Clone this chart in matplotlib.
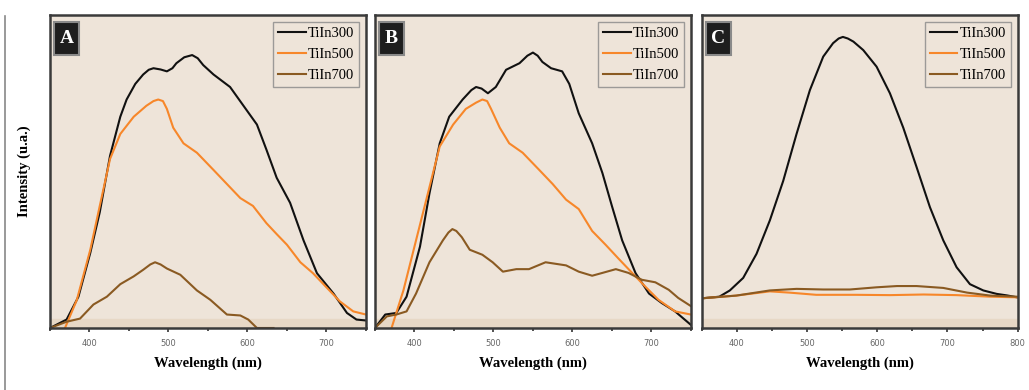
import matplotlib.pyplot as plt
from matplotlib.ticker import MultipleLocator
from matplotlib.lines import Line2D
from matplotlib.patches import Rectangle

# Panel A
a_wl_300 = [350, 371, 386, 401, 413, 426, 439, 447, 458, 468, 475, 481, 490, 498, 505, 510, 520, 530, 537, 544, 557, 578, 595, 612, 624, 637, 654, 671, 688, 709, 726, 738, 750]
a_i_300 = [0.0, 0.027, 0.10, 0.24, 0.37, 0.55, 0.675, 0.73, 0.78, 0.81, 0.825, 0.83, 0.826, 0.82, 0.83, 0.846, 0.865, 0.872, 0.862, 0.84, 0.81, 0.77, 0.71, 0.65, 0.57, 0.48, 0.40, 0.28, 0.175, 0.11, 0.048, 0.027, 0.024]
a_wl_500 = [369, 384, 401, 413, 426, 439, 456, 472, 481, 487, 493, 498, 506, 519, 536, 557, 574, 591, 607, 624, 637, 650, 667, 683, 700, 717, 734, 750]
a_i_500 = [0.0, 0.09, 0.25, 0.39, 0.54, 0.62, 0.675, 0.71, 0.725, 0.73, 0.725, 0.70, 0.64, 0.59, 0.56, 0.505, 0.46, 0.415, 0.39, 0.335, 0.30, 0.266, 0.21, 0.175, 0.13, 0.085, 0.053, 0.043]
a_wl_700 = [350, 371, 388, 405, 422, 439, 456, 468, 477, 483, 490, 498, 515, 536, 553, 574, 591, 601, 612, 633]
a_i_700 = [0.0, 0.02, 0.03, 0.075, 0.10, 0.14, 0.165, 0.186, 0.203, 0.21, 0.203, 0.19, 0.17, 0.12, 0.09, 0.043, 0.04, 0.027, 0.0, 0.0]

# Panel B
b_wl_300 = [350, 363, 377, 390, 407, 419, 432, 444, 461, 472, 478, 485, 493, 503, 516, 533, 543, 550, 556, 562, 573, 587, 596, 608, 625, 638, 650, 663, 680, 697, 713, 730, 750]
b_i_300 = [0.0, 0.043, 0.048, 0.10, 0.26, 0.43, 0.59, 0.675, 0.73, 0.76, 0.77, 0.765, 0.75, 0.77, 0.825, 0.846, 0.87, 0.88, 0.87, 0.85, 0.83, 0.82, 0.78, 0.686, 0.59, 0.495, 0.39, 0.28, 0.175, 0.11, 0.08, 0.053, 0.01]
b_wl_500 = [371, 386, 402, 419, 432, 449, 465, 478, 486, 492, 497, 508, 520, 537, 558, 575, 592, 608, 625, 642, 659, 676, 692, 709, 730, 750]
b_i_500 = [0.0, 0.12, 0.28, 0.45, 0.58, 0.65, 0.70, 0.72, 0.73, 0.725, 0.70, 0.64, 0.59, 0.56, 0.505, 0.46, 0.41, 0.38, 0.31, 0.266, 0.22, 0.175, 0.133, 0.09, 0.053, 0.043]
b_wl_700 = [350, 365, 377, 390, 402, 419, 436, 443, 448, 453, 460, 470, 486, 499, 512, 529, 545, 566, 592, 608, 625, 638, 655, 671, 688, 705, 722, 734, 750]
b_i_700 = [0.0, 0.037, 0.043, 0.053, 0.11, 0.21, 0.28, 0.305, 0.316, 0.31, 0.29, 0.25, 0.234, 0.21, 0.18, 0.188, 0.188, 0.21, 0.20, 0.18, 0.167, 0.176, 0.188, 0.176, 0.154, 0.146, 0.122, 0.096, 0.07]

# Panel C
c_wl_300 = [351, 375, 390, 409, 428, 447, 466, 485, 504, 523, 537, 545, 551, 558, 566, 580, 599, 618, 637, 656, 675, 694, 713, 732, 751, 770, 785, 799]
c_i_300 = [0.095, 0.10, 0.12, 0.16, 0.237, 0.344, 0.47, 0.62, 0.76, 0.867, 0.91, 0.925, 0.93, 0.925, 0.915, 0.888, 0.835, 0.75, 0.64, 0.514, 0.386, 0.28, 0.194, 0.14, 0.12, 0.109, 0.104, 0.098]
c_wl_500 = [351, 399, 447, 475, 513, 570, 618, 666, 713, 761, 799]
c_i_500 = [0.095, 0.1035, 0.117, 0.113, 0.106, 0.106, 0.105, 0.107, 0.105, 0.10, 0.098]
c_wl_700 = [351, 399, 447, 485, 523, 561, 599, 628, 656, 694, 728, 761, 799]
c_i_700 = [0.095, 0.1035, 0.12, 0.125, 0.123, 0.123, 0.13, 0.134, 0.134, 0.128, 0.113, 0.1035, 0.10]

names = ['TiIn300', 'TiIn500', 'TiIn700']
colores = ['#111111', '#F7872A', '#8A5A22']

paneles = [
    ('A', (350, 750), [(a_wl_300, a_i_300), (a_wl_500, a_i_500), (a_wl_700, a_i_700)]),
    ('B', (350, 750), [(b_wl_300, b_i_300), (b_wl_500, b_i_500), (b_wl_700, b_i_700)]),
    ('C', (350, 800), [(c_wl_300, c_i_300), (c_wl_500, c_i_500), (c_wl_700, c_i_700)]),
]

fig = plt.figure(figsize=(10.29, 3.9), dpi=100)
lefts = [0.0486, 0.3644, 0.682]
serif = 'Liberation Serif'

for left, (letra, xlim, series) in zip(lefts, paneles):
    ax = fig.add_axes([left, 0.159, 0.307, 0.8025])
    ax.set_facecolor('#EEE4D9')
    ax.axhspan(0, 0.03, color='#E7D8C6', zorder=0)
    for (wl, inten), nombre, col in zip(series, names, colores):
        ax.plot(wl, inten, color=col, lw=1.5, label=nombre, solid_joinstyle='round')
    ax.set_xlim(*xlim)
    ax.set_ylim(0, 1)
    ax.set_yticks([])
    ax.xaxis.set_major_locator(MultipleLocator(100))
    ax.xaxis.set_minor_locator(MultipleLocator(50))
    ax.tick_params(axis='x', which='major', length=3, width=1.2, colors='#333333',
                   labelsize=6, labelcolor='#666666', pad=5)
    ax.tick_params(axis='x', which='minor', length=2, width=1.2, colors='#333333')
    for s in ax.spines.values():
        s.set_linewidth(1.8)
        s.set_color('#3A3A3A')
    ax.set_xlabel('Wavelength (nm)', fontfamily=serif, fontweight='bold', fontsize=10.5, labelpad=6)

    # leyenda arriba a la derecha
    leg = ax.legend(loc='upper right', prop={'family': serif, 'size': 10.5}, frameon=True,
                    fancybox=False, handlelength=1.9, handletextpad=0.15, borderpad=0.35,
                    labelspacing=0.55, borderaxespad=0.45)
    leg.get_frame().set_facecolor('#EEE4D9')
    leg.get_frame().set_edgecolor('#888888')
    leg.get_frame().set_linewidth(1.0)

    # etiqueta del panel
    ax.add_patch(Rectangle((0.0126, 0.872), 0.079, 0.105, transform=ax.transAxes,
                           facecolor='#1E1E1E', edgecolor='#8A8A8A', lw=1.5, zorder=5))
    ax.text(0.052, 0.925, letra, transform=ax.transAxes, ha='center', va='center',
            fontfamily=serif, fontweight='bold', fontsize=14, color='white', zorder=6)

fig.text(0.024, 0.56, 'Intensity (u.a.)', rotation=90, ha='center', va='center',
         fontfamily=serif, fontweight='bold', fontsize=10.5)
fig.add_artist(Line2D([0.005, 0.005], [0.0, 0.96], color='#888888', lw=1.2, transform=fig.transFigure))

fig.savefig('out.png', dpi=100, facecolor='white')
